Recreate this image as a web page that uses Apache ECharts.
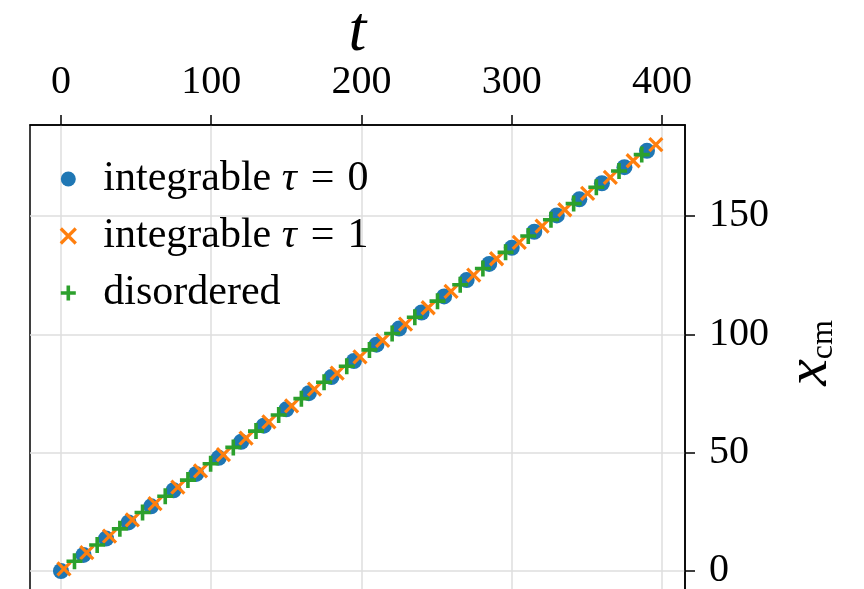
<!DOCTYPE html>
<html>
<head>
<meta charset="utf-8">
<script src="https://cdn.jsdelivr.net/npm/echarts@6/dist/echarts.min.js"></script>
<style>
  html, body { margin: 0; padding: 0; background: #fff; }
  #chart { width: 864px; height: 589px; }
</style>
</head>
<body>
<div id="chart"></div>
<script>
// 数据：从图上读出来的
var tTicks = [0, 100, 200, 300, 400];
var xTicks = [0, 50, 100, 150];

var tInt0 = [0, 15, 30, 45, 60, 75, 90, 105, 120, 135, 150, 165, 180, 195, 210,
             225, 240, 255, 270, 285, 300, 315, 330, 345, 360, 375, 390];
var xInt0 = [0, 6.8, 13.7, 20.5, 27.3, 34.1, 41.0, 47.8, 54.6, 61.4, 68.3, 75.1, 81.9, 88.7, 95.6,
             102.4, 109.2, 116.0, 122.9, 129.7, 136.5, 143.3, 150.2, 157.0, 163.8, 170.6, 177.5];

var tInt1 = [2, 17.2, 32.3, 47.5, 62.6, 77.8, 92.9, 108.1, 123.2, 138.4, 153.5, 168.7, 183.8, 199,
             214.1, 229.3, 244.4, 259.6, 274.7, 289.9, 305, 320.2, 335.3, 350.5, 365.6, 380.8, 395.9];
var xInt1 = [0.9, 7.8, 14.7, 21.6, 28.5, 35.4, 42.3, 49.2, 56.1, 63.0, 69.8, 76.8, 83.6, 90.5,
             97.4, 104.3, 111.2, 118.1, 125.0, 131.9, 138.8, 145.7, 152.6, 159.5, 166.3, 173.3, 180.1];

var tDis = [9, 24.1, 39.2, 54.3, 69.4, 84.5, 99.6, 114.7, 129.8, 144.9, 160, 175.1, 190.2,
            205.3, 220.4, 235.5, 250.6, 265.7, 280.8, 295.9, 311, 326.1, 341.2, 356.3, 371.4, 386.5];
var xDis = [4.1, 11.0, 17.8, 24.7, 31.6, 38.4, 45.3, 52.2, 59.1, 65.9, 72.8, 79.7, 86.5,
            93.4, 100.3, 107.2, 114.0, 120.9, 127.8, 134.6, 141.5, 148.4, 155.2, 162.1, 169.0, 175.9];

function pairs(a, b) {
	var out = [];
	for (var i = 0; i < a.length; i++) out.push([a[i], b[i]]);
	return out;
}

var serif = "'Liberation Serif', 'DejaVu Serif', serif";
var crossX = 'path://M0,0L10,10M0,10L10,0';
var crossPlus = 'path://M5,0L5,10M0,5L10,5';

var myChart = echarts.init(document.getElementById('chart'));

var option = {
	animation: false,
	backgroundColor: '#fff',
	grid: {
		left: 30,
		top: 125,
		width: 655,
		height: 470,
		outerBoundsMode: 'none',
		containLabel: false,
		show: true,
		borderColor: '#000',
		borderWidth: 1.5
	},
	//图例
	legend: {
		orient: 'vertical',
		left: 54,
		top: 152,
		itemWidth: 60,
		itemHeight: 15,
		itemGap: 13,
		textStyle: {
			fontFamily: serif,
			fontSize: 42,
			lineHeight: 44,
			color: '#000',
			rich: {
				n: { fontFamily: serif, fontSize: 42, lineHeight: 44, color: '#000' },
				i: { fontFamily: serif, fontSize: 42, lineHeight: 44, fontStyle: 'italic', color: '#000' },
				e: { fontFamily: serif, fontSize: 42, lineHeight: 44, color: '#000', padding: [0, 13, 0, 14] }
			}
		},
		formatter: function (name) {
			var p = name.split(' τ = ');
			if (p.length < 2) return '{n|' + name + '}';
			return '{n|' + p[0] + ' }{i|τ}{e|=}{n|' + p[1] + '}';
		},
		data: [
			{ name: 'integrable τ = 0' },
			{ name: 'integrable τ = 1', itemStyle: { borderColor: '#ff7f0e', borderWidth: 3.2 } },
			{ name: 'disordered', itemStyle: { borderColor: '#2ca02c', borderWidth: 3.6 } }
		]
	},
	//x轴在上面
	xAxis: {
		type: 'value',
		position: 'top',
		min: -20.6,
		max: 415.3,
		name: 't',
		nameLocation: 'middle',
		nameGap: 60,
		nameMoveOverlap: false,
		nameTextStyle: { fontFamily: serif, fontSize: 64, fontStyle: 'italic', color: '#000' },
		axisLine: { show: true, onZero: false, lineStyle: { color: '#000', width: 1.5 } },
		axisTick: { show: true, length: 10, lineStyle: { color: '#000', width: 1.5 }, customValues: tTicks },
		axisLabel: { fontFamily: serif, fontSize: 40, color: '#000', margin: 23, customValues: tTicks },
		splitLine: { show: true, lineStyle: { color: '#dedede', width: 1.5 } }
	},
	//y轴在右边
	yAxis: {
		type: 'value',
		position: 'right',
		min: -10.14,
		max: 188.4,
		name: '{x|x}{s|cm}',
		nameLocation: 'middle',
		nameRotate: 90,
		nameGap: 91,
		nameTextStyle: {
			padding: [0, 0, 0, 14],
			rich: {
				x: { fontFamily: serif, fontSize: 60, fontStyle: 'italic', color: '#000', lineHeight: 60, verticalAlign: 'bottom' },
				s: { fontFamily: serif, fontSize: 32, color: '#000', lineHeight: 32, verticalAlign: 'bottom' }
			}
		},
		axisLine: { show: true, onZero: false, lineStyle: { color: '#000', width: 1.5 } },
		axisTick: { show: true, length: 10, lineStyle: { color: '#000', width: 1.5 }, customValues: xTicks },
		axisLabel: { fontFamily: serif, fontSize: 40, color: '#000', margin: 24, customValues: xTicks },
		splitLine: { show: true, lineStyle: { color: '#dedede', width: 1.5 } }
	},
	series: [
		{
			name: 'integrable τ = 0',
			type: 'scatter',
			symbol: 'circle',
			symbolSize: 16,
			itemStyle: { color: '#1f77b4', opacity: 1 },
			data: pairs(tInt0, xInt0)
		},
		{
			name: 'integrable τ = 1',
			type: 'scatter',
			symbol: crossX,
			symbolSize: 13,
			itemStyle: { color: '#ff7f0e', borderColor: '#ff7f0e', borderWidth: 3.2, opacity: 1 },
			data: pairs(tInt1, xInt1)
		},
		{
			name: 'disordered',
			type: 'scatter',
			symbol: crossPlus,
			symbolSize: 16,
			itemStyle: { color: '#2ca02c', borderColor: '#2ca02c', borderWidth: 3.6, opacity: 1 },
			data: pairs(tDis, xDis)
		}
	]
};

myChart.setOption(option);
</script>
</body>
</html>
